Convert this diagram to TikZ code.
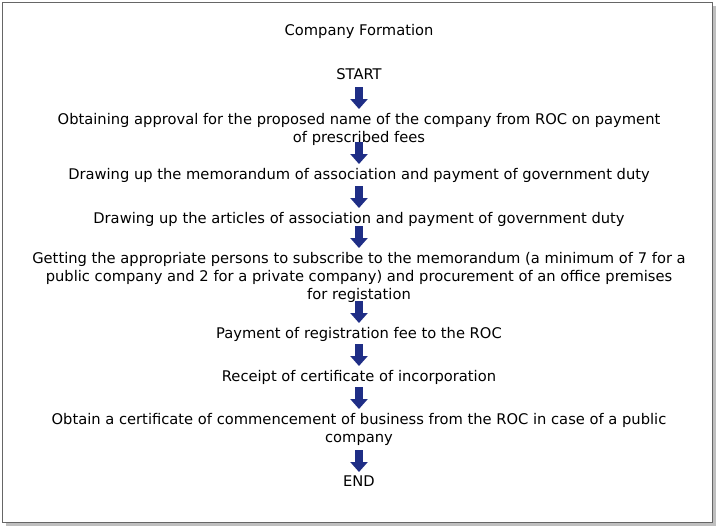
\documentclass[tikz,border=0pt]{standalone}
\usepackage{fontspec}
\setmainfont{DejaVu Sans}
\usetikzlibrary{arrows.meta,calc}
\definecolor{navy}{HTML}{1F2E86}
\begin{document}
\begin{tikzpicture}[x=1pt,y=-1pt,
  txt/.style={font=\fontsize{14.7}{18}\selectfont,align=center,inner sep=0pt,anchor=north},
  flow/.style={navy,line width=8pt,-{Triangle[width=17pt,length=10pt]}}]
\useasboundingbox (0,0) rectangle (719,530);
\fill[black!25] (6,6) rectangle (716,526);
\draw[black!60,fill=white] (2,2) rectangle (712,522);
\node[txt] (t) at (359,24) {Company Formation};
\node[txt] (s) at (359,68) {START};
\node[txt] (a) at (359,113) {Obtaining approval for the proposed name of the company from ROC on payment\\of prescribed fees};
\node[txt] (b) at (359,168) {Drawing up the memorandum of association and payment of government duty};
\node[txt] (c) at (359,212) {Drawing up the articles of association and payment of government duty};
\node[txt] (d) at (359,252) {Getting the appropriate persons to subscribe to the memorandum (a minimum of 7 for a\\public company and 2 for a private company) and procurement of an office premises\\for registation};
\node[txt] (e) at (359,327) {Payment of registration fee to the ROC};
\node[txt] (f) at (359,370) {Receipt of certificate of incorporation};
\node[txt] (g) at (359,413) {Obtain a certificate of commencement of business from the ROC in case of a public\\company};
\node[txt] (h) at (359,476) {END};
\foreach \p/\q in {s/a,a/b,b/c,c/d,d/e,e/f,f/g,g/h}
  \draw[flow] ($(\q.north)+(0,-26)$) -- ($(\q.north)+(0,-4)$);
\end{tikzpicture}
\end{document}
